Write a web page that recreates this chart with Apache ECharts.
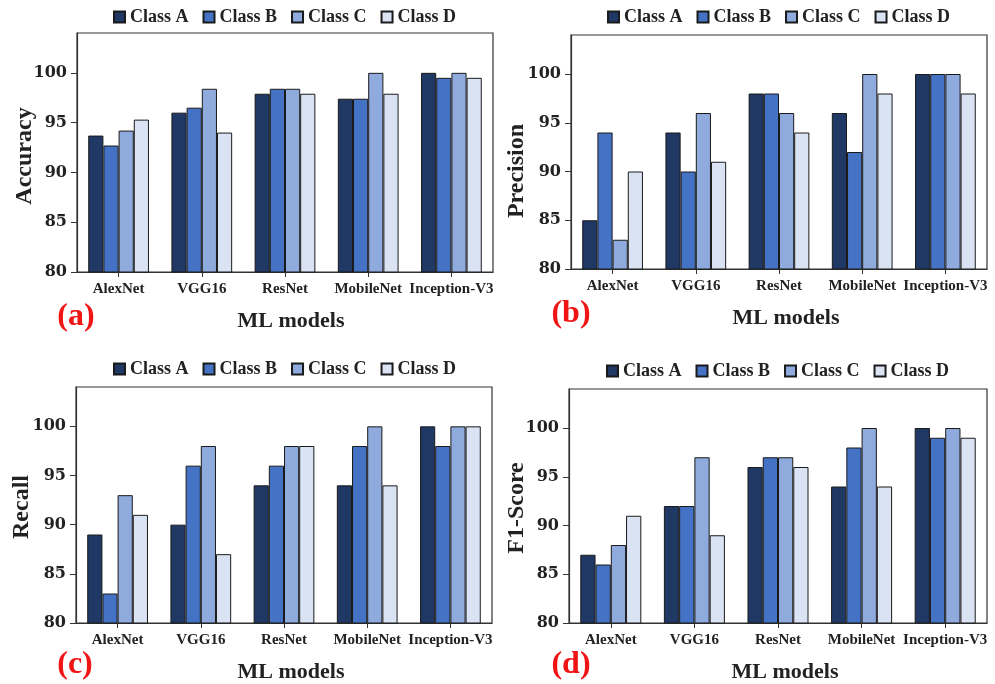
<!DOCTYPE html>
<html>
<head>
<meta charset="utf-8">
<script src="https://cdn.jsdelivr.net/npm/echarts@6/dist/echarts.min.js"></script>
<style>
html,body{margin:0;padding:0;background:#fff;}
#main{width:995px;height:684px;}
</style>
</head>
<body>
<div id="main"></div>
<script>
// ---- data ----
var models = ['AlexNet', 'VGG16', 'ResNet', 'MobileNet', 'Inception-V3'];
var classNames = ['Class A', 'Class B', 'Class C', 'Class D'];
var yTicks = [80, 85, 90, 95, 100];

var accuracyA = [93.7, 96.0, 97.9, 97.4, 100];
var accuracyB = [92.7, 96.5, 98.4, 97.4, 99.5];
var accuracyC = [94.2, 98.4, 98.4, 100, 100];
var accuracyD = [95.3, 94.0, 97.9, 97.9, 99.5];

var precisionA = [85, 94, 98, 96, 100];
var precisionB = [94, 90, 98, 92, 100];
var precisionC = [83, 96, 96, 100, 100];
var precisionD = [90, 91, 94, 98, 98];

var recallA = [89, 90, 94, 94, 100];
var recallB = [83, 96, 96, 98, 98];
var recallC = [93, 98, 98, 100, 100];
var recallD = [91, 87, 98, 94, 100];

var f1A = [87, 92, 96, 94, 100];
var f1B = [86, 92, 97, 98, 99];
var f1C = [88, 97, 97, 100, 100];
var f1D = [91, 89, 96, 94, 99];

var panelTitles = ['Accuracy', 'Precision', 'Recall', 'F1-Score'];
var panelLetters = ['(a)', '(b)', '(c)', '(d)'];
var xTitle = 'ML models';

// ---- styling / layout ----
var colors = ['#203864', '#4472C4', '#8FAADC', '#DAE3F3'];
var serif = '"Liberation Serif", "Times New Roman", serif';
var numFont = '"DejaVu Serif", serif';
var panelData = [
  [accuracyA, accuracyB, accuracyC, accuracyD],
  [precisionA, precisionB, precisionC, precisionD],
  [recallA, recallB, recallC, recallD],
  [f1A, f1B, f1C, f1D]
];
var grids = [
  {left: 77, top: 33, width: 416, height: 239},
  {left: 571, top: 35, width: 416, height: 234},
  {left: 76, top: 387, width: 416, height: 236},
  {left: 569, top: 389, width: 418, height: 234}
];
var legendPos = [{left: 113, top: 8}, {left: 607, top: 8}, {left: 113, top: 360}, {left: 606, top: 362}];
var yTitlePos = [[25, 156], [517, 171], [22, 507], [517, 508]];
var xTitlePos = [[291, 321], [786, 318], [291, 672], [785, 672]];
var letterPos = [[76, 317], [571, 314], [75, 665], [571, 665]];

var option = {
  backgroundColor: '#fff',
  animation: false,
  grid: [], xAxis: [], yAxis: [], series: [], legend: [], graphic: []
};

for (var p = 0; p < 4; p++) {
  var g = grids[p];
  option.grid.push({left: g.left, top: g.top, width: g.width, height: g.height,
    show: true, borderColor: '#333', borderWidth: 1.2, backgroundColor: '#fff'});
  option.xAxis.push({
    type: 'category', gridIndex: p, data: models,
    axisLine: {show: true, lineStyle: {color: '#333', width: 1.2}},
    axisTick: {show: true, alignWithLabel: true, length: 5, lineStyle: {color: '#333'}},
    axisLabel: {interval: 0, margin: 10, color: '#222', fontFamily: serif, fontWeight: 'bold', fontSize: 15}
  });
  option.yAxis.push({
    type: 'value', gridIndex: p, min: 80, max: 104, interval: 5,
    splitLine: {show: false},
    axisLine: {show: true, lineStyle: {color: '#333', width: 1.2}},
    axisTick: {show: true, length: 6, customValues: yTicks, lineStyle: {color: '#333'}},
    axisLabel: {customValues: yTicks, margin: 10, color: '#222', fontFamily: numFont, fontWeight: 'bold', fontSize: 16}
  });
  option.legend.push({
    left: legendPos[p].left, top: legendPos[p].top, padding: 0,
    data: classNames, icon: 'rect', itemWidth: 11, itemHeight: 11, itemGap: 14,
    textStyle: {fontFamily: serif, fontWeight: 'bold', fontSize: 18, color: '#222'}
  });
  for (var s = 0; s < 4; s++) {
    option.series.push({
      type: 'bar', name: classNames[s], xAxisIndex: p, yAxisIndex: p,
      data: panelData[p][s],
      barGap: '0%', barCategoryGap: '27%',
      itemStyle: {color: colors[s], borderColor: '#1a1a1a', borderWidth: 1}
    });
  }
  option.graphic.push({
    type: 'text', x: yTitlePos[p][0], y: yTitlePos[p][1], rotation: Math.PI / 2,
    style: {text: panelTitles[p], font: 'bold 24px ' + serif, fill: '#222', align: 'center', verticalAlign: 'middle'}
  });
  option.graphic.push({
    type: 'text', x: xTitlePos[p][0], y: xTitlePos[p][1],
    style: {text: xTitle, font: 'bold 22px ' + serif, fill: '#222', align: 'center', verticalAlign: 'middle'}
  });
  option.graphic.push({
    type: 'text', x: letterPos[p][0], y: letterPos[p][1],
    style: {text: panelLetters[p], font: 'bold 32px ' + serif, fill: '#f01414', align: 'center', verticalAlign: 'middle'}
  });
}

var chart = echarts.init(document.getElementById('main'), null, {renderer: 'canvas'});
chart.setOption(option);
</script>
</body>
</html>
